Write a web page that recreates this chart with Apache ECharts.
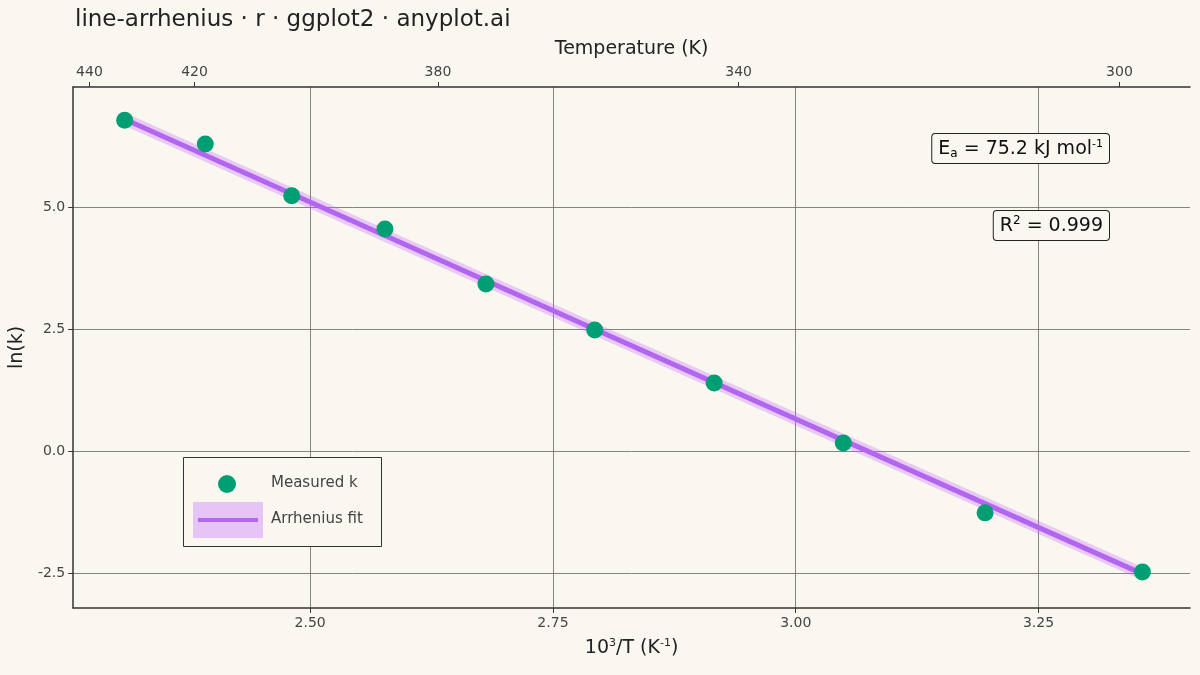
<!DOCTYPE html>
<html><head><meta charset="utf-8">
<script src="https://cdn.jsdelivr.net/npm/echarts@6/dist/echarts.min.js"></script>
<style>html,body{margin:0;background:#FAF7F1}#c{width:1200px;height:675px}</style>
</head><body><div id="c"></div>
<script>
const invT = [2.309, 2.392, 2.481, 2.577, 2.681, 2.793, 2.916, 3.049, 3.195, 3.357];
const lnK = [6.78, 6.29, 5.23, 4.55, 3.42, 2.48, 1.39, 0.16, -1.27, -2.48];
const fitX = [2.309, 3.357];
const fitY = [6.80, -2.52];
const tempTicks = [440, 420, 380, 340, 300];
const xTicks = [2.5, 2.75, 3.0, 3.25];
const yTicks = [-2.5, 0, 2.5, 5.0];

const ch = echarts.init(document.getElementById('c'));
const font = 'DejaVu Sans';
const fitData = fitX.map((x, i) => [x, fitY[i]]);
ch.setOption({
  backgroundColor: '#FAF7F1',
  textStyle: {fontFamily: font},
  title: {text: 'line-arrhenius · r · ggplot2 · anyplot.ai', left: 70, top: 4,
    textStyle: {fontFamily: font, fontWeight: 'normal', fontSize: 23, color: '#222'}},
  grid: {left: 71, right: 10, top: 87, bottom: 67},
  xAxis: [{
    type: 'value', min: 2.256, max: 3.406, position: 'bottom',
    name: '{a|10}{s|3}{a|/T (K}{s|-1}{a|)}', nameLocation: 'middle', nameGap: 30,
    nameTextStyle: {rich: {a: {fontSize: 19, color: '#222', fontFamily: font}, s: {fontSize: 11, verticalAlign: 'top', padding: [0,0,10,0], color: '#222'}}},
    axisLine: {onZero: false, lineStyle: {color: '#333', width: 1.5}},
    axisTick: {customValues: xTicks, lineStyle: {color: '#333'}},
    axisLabel: {customValues: xTicks, formatter: v => v.toFixed(2), color: '#444', fontSize: 14},
    splitLine: {show: true, lineStyle: {color: '#666', width: 0.8}}
  }, {
    type: 'value', min: 2.256, max: 3.406, position: 'top',
    name: 'Temperature (K)', nameLocation: 'middle', nameGap: 28,
    nameTextStyle: {fontSize: 19, color: '#222'},
    axisLine: {show: true, onZero: false, lineStyle: {color: '#333', width: 1.5}},
    axisTick: {customValues: tempTicks.map(t => 1000 / t), lineStyle: {color: '#333'}},
    axisLabel: {customValues: tempTicks.map(t => 1000 / t), formatter: v => Math.round(1000 / v), color: '#444', fontSize: 14},
    splitLine: {show: false}
  }],
  yAxis: {
    type: 'value', min: -3.22, max: 7.46,
    name: 'ln(k)', nameLocation: 'middle', nameGap: 45,
    nameTextStyle: {fontSize: 19, color: '#222'},
    axisLine: {show: true, onZero: false, lineStyle: {color: '#333', width: 1.5}},
    axisTick: {customValues: yTicks, lineStyle: {color: '#333'}},
    axisLabel: {customValues: yTicks, formatter: v => v.toFixed(1), color: '#444', fontSize: 14},
    splitLine: {show: true, lineStyle: {color: '#666', width: 0.8}}
  },
  series: [
    {name: 'Arrhenius band', type: 'line', data: fitData, symbol: 'none', z: 2,
     lineStyle: {color: 'rgba(191,100,255,0.3)', width: 12}, silent: true},
    {name: 'Arrhenius fit', type: 'line', data: fitData, symbol: 'none', z: 3,
     lineStyle: {color: '#B266F0', width: 5}},
    {name: 'Measured k', type: 'scatter', data: invT.map((x, i) => [x, lnK[i]]), symbolSize: 17, z: 5,
     itemStyle: {color: '#009E73', opacity: 1}}
  ],
  graphic: [
    {type: 'rect', left: 183, top: 457, z: 10, shape: {width: 198, height: 89},
     style: {fill: '#FAF7F1', stroke: '#333', lineWidth: 1}},
    {type: 'circle', left: 218, top: 475, z: 11, shape: {r: 9}, style: {fill: '#009E73'}},
    {type: 'rect', left: 193, top: 502, z: 11, shape: {width: 70, height: 36}, style: {fill: 'rgba(191,100,255,0.35)'}},
    {type: 'rect', left: 198, top: 518, z: 12, shape: {width: 60, height: 4}, style: {fill: '#B266F0'}},
    {type: 'text', left: 271, top: 476, z: 12, style: {text: 'Measured k', fontSize: 15, fill: '#444', fontFamily: font}},
    {type: 'text', left: 271, top: 512, z: 12, style: {text: 'Arrhenius fit', fontSize: 15, fill: '#444', fontFamily: font}},
    {type: 'text', right: 90, top: 133, z: 10, style: {
      text: '{a|E}{b|a}{a| = 75.2 kJ mol}{s|-1}', backgroundColor: '#FAF7F1', borderColor: '#222', borderWidth: 1, borderRadius: 3,
      padding: [5, 6, 3, 6],
      rich: {a: {fontSize: 19, fill: '#111', fontFamily: font}, b: {fontSize: 12, verticalAlign: 'bottom', padding: [8,0,0,0], fontFamily: font}, s: {fontSize: 11, verticalAlign: 'top', padding: [0,0,10,0], fontFamily: font}}}},
    {type: 'text', right: 90, top: 210, z: 10, style: {
      text: '{a|R}{s|2}{a| = 0.999}', backgroundColor: '#FAF7F1', borderColor: '#222', borderWidth: 1, borderRadius: 3,
      padding: [4, 6, 3, 6],
      rich: {a: {fontSize: 19, fill: '#111', fontFamily: font}, s: {fontSize: 12, verticalAlign: 'top', padding: [0,0,10,0], fontFamily: font}}}}
  ]
});
</script></body></html>
